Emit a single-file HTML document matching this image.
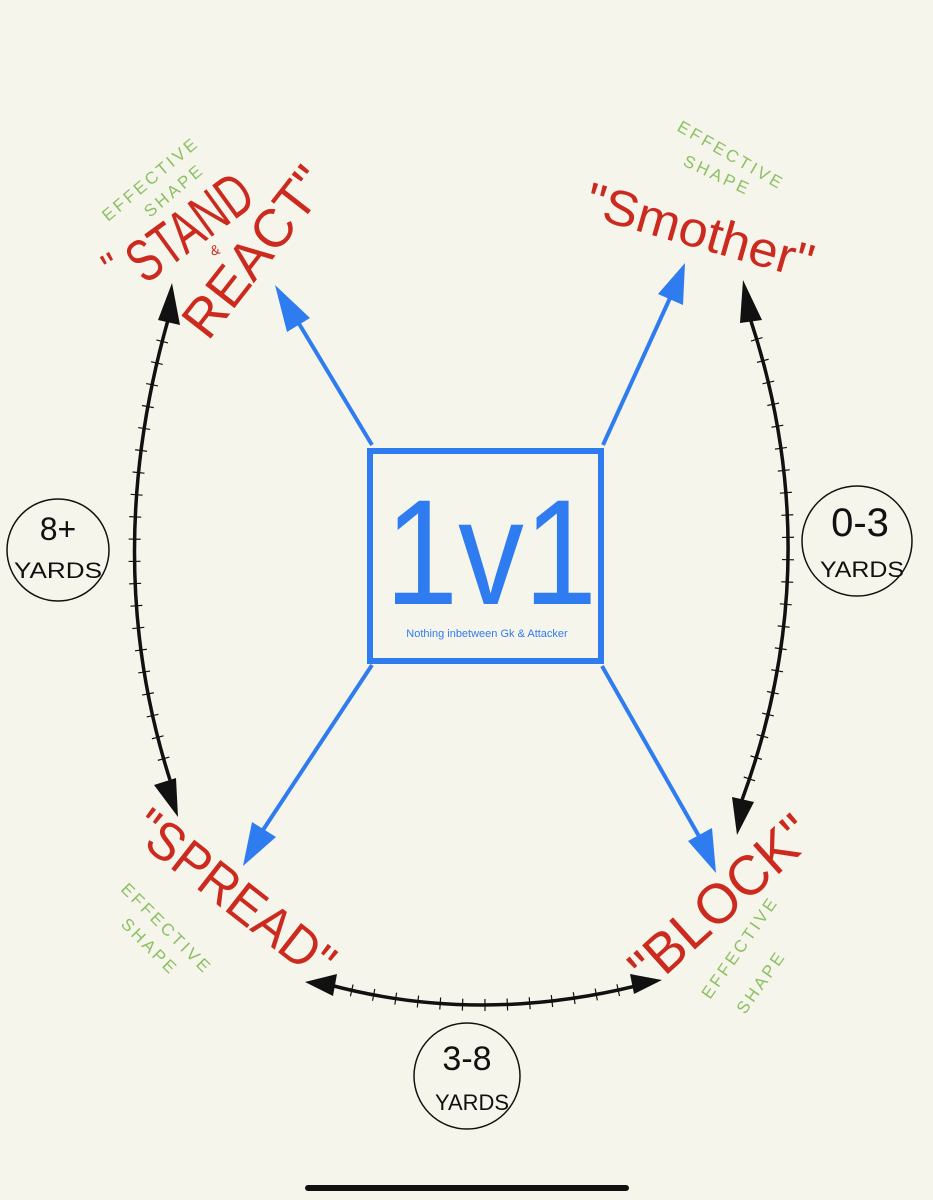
<!DOCTYPE html>
<html><head><meta charset="utf-8">
<style>
html,body{margin:0;padding:0;background:#f6f5ec;}
svg{display:block;}
.red{fill:#cc2a1e;font-family:"Liberation Sans",sans-serif;}
.grn{fill:#8cc063;font-family:"Liberation Sans",sans-serif;font-size:17px;letter-spacing:3px;}
.blk{fill:#111;font-family:"Liberation Sans",sans-serif;}
</style></head>
<body>
<svg id="s" width="933" height="1200" viewBox="0 0 933 1200" xmlns="http://www.w3.org/2000/svg">
<rect width="933" height="1200" fill="#f6f5ec"/>
<!-- center box -->
<rect x="370" y="451" width="231" height="210" fill="none" stroke="#2f7cf0" stroke-width="6"/>
<text x="385" y="604" textLength="212" lengthAdjust="spacingAndGlyphs" font-family="Liberation Sans,sans-serif" font-size="150" fill="#2f7cf0">1v1</text>
<text x="487" y="637" text-anchor="middle" font-family="Liberation Sans,sans-serif" font-size="11" fill="#2f7cf0">Nothing inbetween Gk &amp; Attacker</text>

<!-- blue arrows -->
<g stroke="#2f7cf0" stroke-width="4" fill="#2f7cf0">
<line x1="372" y1="445" x2="298" y2="322"/>
<polygon points="275,285 310,318 287,332" stroke="none"/>
<line x1="603" y1="445" x2="670" y2="298"/>
<polygon points="685,263 683,305 658,294" stroke="none"/>
<line x1="372" y1="665" x2="263" y2="830"/>
<polygon points="243,866 252,822 276,837" stroke="none"/>
<line x1="602" y1="666" x2="700" y2="838"/>
<polygon points="716,873 688,841 712,828" stroke="none"/>
</g>

<!-- black curves -->
<g stroke="#111" stroke-width="3.5" fill="none">
<path id="c1" d="M168,320 Q100,560 170,780"/>
<path id="c2" d="M750,318 Q830,560 742,800"/>
<path id="c3" d="M330,985 Q480,1025 640,985"/>
</g>
<g fill="#111">
<polygon points="172,283 180,325 158,320"/>
<polygon points="178,817 154,785 176,778"/>
<polygon points="743,280 762,320 740,323"/>
<polygon points="737,835 732,797 754,802"/>
<polygon points="305,982 337,974 333,996"/>
<polygon points="662,980 634,994 630,974"/>
</g>
<g id="ticks" stroke="#111" stroke-width="1.2"></g>

<!-- circles -->
<g fill="none" stroke="#111" stroke-width="1.5">
<circle cx="58" cy="550" r="51"/>
<circle cx="857" cy="541" r="55"/>
<circle cx="467" cy="1076" r="53"/>
</g>
<text class="blk" x="58" y="540" text-anchor="middle" font-size="32">8+</text>
<text class="blk" x="58" y="578" text-anchor="middle" font-size="22" textLength="88" lengthAdjust="spacingAndGlyphs">YARDS</text>
<text class="blk" x="860" y="536" text-anchor="middle" font-size="40">0-3</text>
<text class="blk" x="862" y="577" text-anchor="middle" font-size="22" textLength="84" lengthAdjust="spacingAndGlyphs">YARDS</text>
<text class="blk" x="467" y="1070" text-anchor="middle" font-size="34">3-8</text>
<text class="blk" x="472" y="1110" text-anchor="middle" font-size="22" textLength="74" lengthAdjust="spacingAndGlyphs">YARDS</text>

<!-- red labels -->
<text class="red" font-size="40" transform="translate(112,282) rotate(-30)">"</text>
<text class="red" font-size="60" textLength="140" lengthAdjust="spacingAndGlyphs" transform="translate(145,285) rotate(-36)">STAND</text>
<text class="red" font-size="14" transform="translate(212,256) rotate(-18)">&amp;</text>
<text class="red" font-size="54" textLength="200" lengthAdjust="spacingAndGlyphs" transform="translate(208,342) rotate(-52)">REACT"</text>
<text class="red" font-size="50" textLength="235" lengthAdjust="spacingAndGlyphs" transform="translate(582,215) rotate(16)">"Smother"</text>
<text class="red" font-size="54" textLength="240" lengthAdjust="spacingAndGlyphs" transform="translate(128,835) rotate(38)">"SPREAD"</text>
<text class="red" font-size="56" textLength="225" lengthAdjust="spacingAndGlyphs" transform="translate(650,990) rotate(-42)">"BLOCK"</text>

<!-- green -->
<text class="grn" transform="translate(108,222) rotate(-40)">EFFECTIVE</text>
<text class="grn" transform="translate(150,218) rotate(-40)">SHAPE</text>
<text class="grn" transform="translate(676,130) rotate(30)">EFFECTIVE</text>
<text class="grn" transform="translate(682,165) rotate(25)">SHAPE</text>
<text class="grn" transform="translate(120,890) rotate(45)">EFFECTIVE</text>
<text class="grn" transform="translate(120,925) rotate(45)">SHAPE</text>
<text class="grn" transform="translate(710,1000) rotate(-55)">EFFECTIVE</text>
<text class="grn" transform="translate(745,1015) rotate(-55)">SHAPE</text>

<!-- home bar -->
<line x1="308" y1="1188" x2="626" y2="1188" stroke="#111" stroke-width="6" stroke-linecap="round"/>
</svg>
<script>
var g=document.getElementById('ticks');
['c1','c2','c3'].forEach(function(id){
 var p=document.getElementById(id),L=p.getTotalLength(),n=Math.floor(L/22);
 for(var i=1;i<n;i++){var t=i*L/n,a=p.getPointAtLength(t),b=p.getPointAtLength(t+1);
  var dx=b.x-a.x,dy=b.y-a.y,m=Math.hypot(dx,dy)||1,nx=-dy/m*6,ny=dx/m*6;
  var l=document.createElementNS('http://www.w3.org/2000/svg','line');
  l.setAttribute('x1',a.x-nx);l.setAttribute('y1',a.y-ny);l.setAttribute('x2',a.x+nx);l.setAttribute('y2',a.y+ny);g.appendChild(l);}
});
</script>
</body></html>
